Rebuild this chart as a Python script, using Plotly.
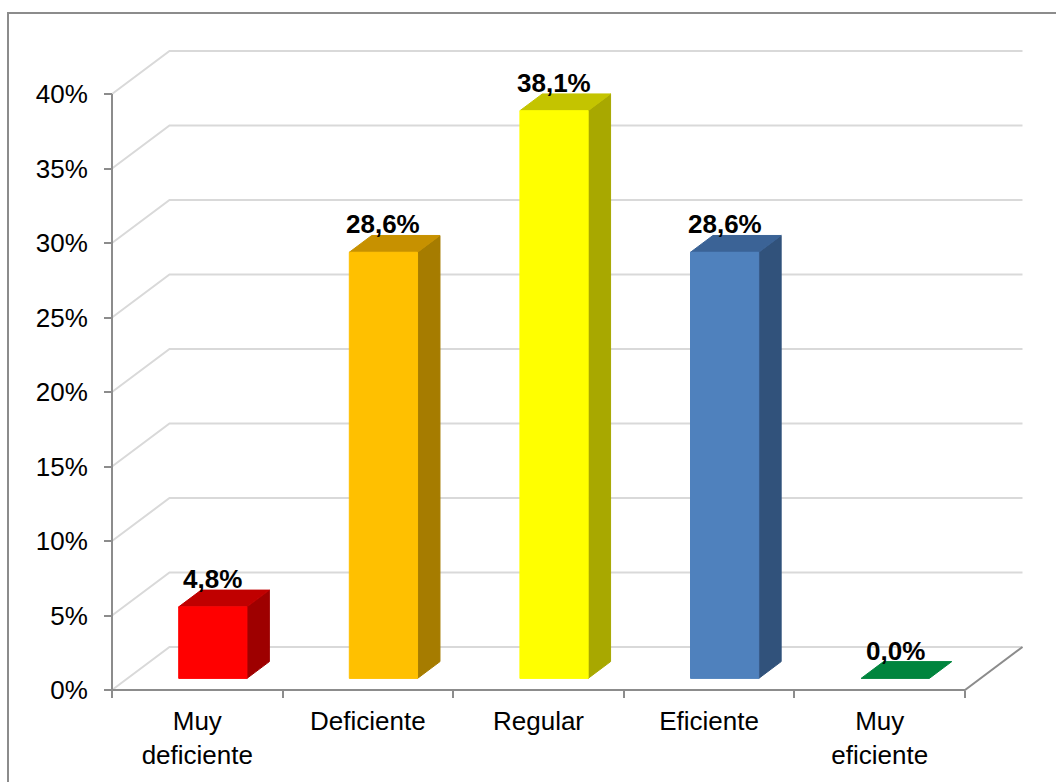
import plotly.graph_objects as go

# ---------------- data ----------------
categories = ["Muy deficiente", "Deficiente", "Regular", "Eficiente", "Muy eficiente"]
values = [4.8, 28.6, 38.1, 28.6, 0.0]
y_ticks = [0, 5, 10, 15, 20, 25, 30, 35, 40]
y_tick_labels = [f"{t}%" for t in y_ticks]

front_colors = ["#FF0000", "#FFC000", "#FFFF00", "#4F81BD", "#00853E"]
top_colors = ["#C00000", "#C79100", "#C4C400", "#3B6396", "#00853E"]
side_colors = ["#9E0000", "#A67C00", "#A8A800", "#31527B", "#00853E"]

# ---------------- geometry (pseudo-3D projection) ----------------
W, H = 1056, 782
PX_X = 170.6      # pixels per category
PX_Y = 14.9       # pixels per percent point
X0_PX, Y0_PX = 112, 690   # pixel position of the front-left floor corner
DX = 57.5 / PX_X  # depth offset (category units)
DY = 43.0 / PX_Y  # depth offset (percent units)
BAR_W = 0.40
D0, D1 = 0.27, 0.66
N = len(categories)

L_PX, R_PX, T_PX, B_PX = 100, 1040, 30, 710
x_range = [(L_PX - X0_PX) / PX_X, (R_PX - X0_PX) / PX_X]
y_range = [(Y0_PX - B_PX) / PX_Y, (Y0_PX - T_PX) / PX_Y]
pw, ph = R_PX - L_PX, B_PX - T_PX

FONT = "Liberation Sans, Arial, sans-serif"
GRID_C = "#D9D9D9"
AXIS_C = "#8C8C8C"

fig = go.Figure()

# gridlines on side and back walls
gx, gy = [], []
for t in y_ticks:
    gx += [0, DX, N + DX, None]
    gy += [t, t + DY, t + DY, None]
fig.add_trace(go.Scatter(x=gx, y=gy, mode="lines", line=dict(color=GRID_C, width=2),
                         hoverinfo="skip", showlegend=False))

# axis lines (vertical value axis, floor front and right edges)
fig.add_trace(go.Scatter(x=[0, 0, None, 0, N, N + DX],
                         y=[y_ticks[-1], 0, None, 0, 0, DY],
                         mode="lines", line=dict(color=AXIS_C, width=2),
                         hoverinfo="skip", showlegend=False))

# bars
annotations = []
for i, (cat, v) in enumerate(zip(categories, values)):
    c = i + 0.5
    xl = c - BAR_W / 2 + D0 * DX
    xr = c + BAR_W / 2 + D0 * DX
    ddx = (D1 - D0) * DX
    yb0 = D0 * DY
    yb1 = D1 * DY
    faces = []
    if v > 0:
        faces.append(([xr, xr, xr + ddx, xr + ddx, xr], [yb0, v + yb0, v + yb1, yb1, yb0], side_colors[i]))
    faces.append(([xl, xr, xr + ddx, xl + ddx, xl], [v + yb0, v + yb0, v + yb1, v + yb1, v + yb0], top_colors[i]))
    if v > 0:
        faces.append(([xl, xr, xr, xl, xl], [yb0, yb0, v + yb0, v + yb0, yb0], front_colors[i]))
    for fx, fy, col in faces:
        fig.add_trace(go.Scatter(x=fx, y=fy, mode="lines", fill="toself", fillcolor=col,
                                 line=dict(color=col, width=1), hoverinfo="skip",
                                 showlegend=False))
    label = f"{v:.1f}".replace(".", ",") + "%"
    annotations.append(dict(x=(xl + xr) / 2, y=v + yb1, xref="x", yref="y", text=f"<b>{label}</b>",
                            showarrow=False, xanchor="center", yanchor="bottom", yshift=-5,
                            borderpad=0, font=dict(family=FONT, size=26, color="black")))

# invisible trace so the label axis is drawn
fig.add_trace(go.Scatter(x=[0.5], y=[0], xaxis="x2", yaxis="y", mode="markers",
                         marker=dict(opacity=0), hoverinfo="skip", showlegend=False))

tick_text = [c.replace("Muy ", "Muy<br>") for c in categories]

fig.update_layout(
    width=W, height=H,
    margin=dict(l=L_PX, r=W - R_PX, t=T_PX, b=H - B_PX, pad=0),
    paper_bgcolor="white", plot_bgcolor="white",
    font=dict(family=FONT, size=26, color="black"),
    xaxis=dict(range=x_range, tickvals=list(range(N + 1)), ticks="outside", ticklen=7,
               tickwidth=2, tickcolor=AXIS_C, showticklabels=False, showgrid=False,
               zeroline=False, showline=False, anchor="free",
               position=(B_PX - Y0_PX) / ph, fixedrange=True),
    xaxis2=dict(overlaying="x", matches="x", range=x_range,
                tickvals=[i + 0.5 for i in range(N)], ticktext=tick_text, ticks="",
                showgrid=False, zeroline=False, showline=False, anchor="free",
                position=(B_PX - Y0_PX) / ph, side="bottom", ticklabelstandoff=13,
                tickfont=dict(family=FONT, size=26, color="black")),
    yaxis=dict(range=y_range, tickvals=y_ticks, ticktext=y_tick_labels, ticks="outside", ticklen=8,
               tickwidth=2, tickcolor=AXIS_C, showgrid=False, zeroline=False, showline=False,
               anchor="free", position=(X0_PX - L_PX) / pw, ticklabelstandoff=11,
               tickfont=dict(family=FONT, size=26, color="black"), fixedrange=True),
    annotations=annotations,
    shapes=[dict(type="rect", xref="paper", yref="paper",
                 x0=(8 - L_PX) / pw, x1=(W + 20 - L_PX) / pw,
                 y0=(B_PX - (H + 20)) / ph, y1=(B_PX - 13) / ph,
                 line=dict(color=AXIS_C, width=2), layer="below")],
    showlegend=False,
)

fig.write_html("out.html")
